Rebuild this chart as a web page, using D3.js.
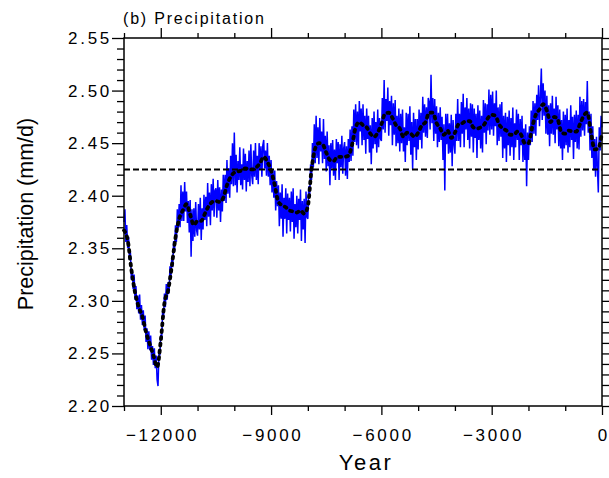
<!DOCTYPE html>
<html>
<head>
<meta charset="utf-8">
<script src="https://cdn.jsdelivr.net/npm/d3@7"></script>
<style>
  body { margin: 0; background: white; }
  text { font-family: "Liberation Sans", Arial, Helvetica, sans-serif; fill: black; }
</style>
</head>
<body>
<div id="viz-container"></div>
<script>
let svgWidth = 609;
let svgHeight = 478;

// frame of the plot
let plotLeft = 124, plotRight = 602, plotTop = 38, plotBottom = 406;

// ---- data ----
// raw series, one value every 25 years from -13000 to 0
let rawStart = -13000;
let rawStep = 25;
let rawValues = [
  2.375, 2.387, 2.356, 2.372, 2.35, 2.361, 2.339, 2.346, 2.32, 2.33, 2.311, 2.325, 2.301, 2.314, 2.292, 2.305, 2.288, 2.306, 2.282, 2.296,
  2.277, 2.291, 2.272, 2.286, 2.261, 2.274, 2.254, 2.271, 2.253, 2.267, 2.244, 2.257, 2.239, 2.255, 2.236, 2.248, 2.225, 2.219, 2.25, 2.248,
  2.268, 2.263, 2.29, 2.284, 2.307, 2.294, 2.316, 2.301, 2.318, 2.307, 2.333, 2.322, 2.342, 2.332, 2.357, 2.347, 2.372, 2.356, 2.387, 2.369,
  2.392, 2.37, 2.41, 2.376, 2.404, 2.376, 2.413, 2.385, 2.404, 2.374, 2.395, 2.365, 2.396, 2.342, 2.387, 2.357, 2.388, 2.361, 2.394, 2.367,
  2.362, 2.392, 2.368, 2.398, 2.358, 2.388, 2.368, 2.401, 2.377, 2.399, 2.371, 2.412, 2.38, 2.403, 2.372, 2.411, 2.386, 2.416, 2.38, 2.405,
  2.407, 2.379, 2.415, 2.386, 2.408, 2.375, 2.406, 2.385, 2.42, 2.395, 2.42, 2.393, 2.434, 2.402, 2.426, 2.398, 2.438, 2.411, 2.45, 2.409,
  2.46, 2.41, 2.439, 2.403, 2.433, 2.415, 2.446, 2.41, 2.43, 2.406, 2.445, 2.415, 2.44, 2.404, 2.433, 2.413, 2.443, 2.409, 2.449, 2.419,
  2.411, 2.443, 2.418, 2.45, 2.415, 2.438, 2.411, 2.45, 2.425, 2.447, 2.418, 2.448, 2.453, 2.426, 2.443, 2.419, 2.45, 2.418, 2.438, 2.41,
  2.434, 2.403, 2.425, 2.398, 2.424, 2.386, 2.414, 2.39, 2.41, 2.371, 2.403, 2.378, 2.411, 2.361, 2.398, 2.378, 2.407, 2.364, 2.402, 2.377,
  2.398, 2.366, 2.404, 2.375, 2.407, 2.359, 2.392, 2.37, 2.4, 2.364, 2.397, 2.377, 2.406, 2.357, 2.395, 2.368, 2.397, 2.355, 2.404, 2.38,
  2.378, 2.409, 2.401, 2.43, 2.415, 2.45, 2.427, 2.468, 2.431, 2.476, 2.436, 2.465, 2.43, 2.474, 2.442, 2.461, 2.431, 2.473, 2.435, 2.457,
  2.423, 2.461, 2.428, 2.448, 2.41, 2.45, 2.426, 2.453, 2.419, 2.444, 2.415, 2.454, 2.431, 2.451, 2.415, 2.449, 2.427, 2.457, 2.421, 2.445,
  2.451, 2.419, 2.447, 2.416, 2.454, 2.432, 2.463, 2.433, 2.466, 2.438, 2.482, 2.451, 2.487, 2.448, 2.48, 2.445, 2.49, 2.461, 2.483, 2.448,
  2.487, 2.453, 2.476, 2.44, 2.483, 2.454, 2.476, 2.441, 2.467, 2.43, 2.474, 2.445, 2.48, 2.449, 2.47, 2.441, 2.482, 2.446, 2.474, 2.454,
  2.452, 2.493, 2.463, 2.51, 2.46, 2.492, 2.471, 2.503, 2.457, 2.49, 2.467, 2.495, 2.448, 2.488, 2.458, 2.491, 2.447, 2.476, 2.45, 2.483,
  2.442, 2.478, 2.45, 2.482, 2.442, 2.465, 2.432, 2.479, 2.448, 2.478, 2.452, 2.485, 2.439, 2.47, 2.425, 2.479, 2.446, 2.473, 2.434, 2.473,
  2.444, 2.482, 2.453, 2.479, 2.445, 2.494, 2.46, 2.487, 2.456, 2.484, 2.455, 2.493, 2.489, 2.463, 2.515, 2.469, 2.493, 2.452, 2.492, 2.459,
  2.485, 2.446, 2.479, 2.451, 2.484, 2.453, 2.475, 2.434, 2.468, 2.405, 2.478, 2.449, 2.478, 2.44, 2.469, 2.441, 2.477, 2.428, 2.472, 2.449,
  2.44, 2.478, 2.452, 2.492, 2.452, 2.478, 2.446, 2.489, 2.459, 2.497, 2.446, 2.484, 2.463, 2.493, 2.453, 2.483, 2.445, 2.488, 2.456, 2.487,
  2.441, 2.483, 2.455, 2.478, 2.436, 2.486, 2.453, 2.481, 2.445, 2.476, 2.441, 2.491, 2.46, 2.488, 2.449, 2.487, 2.462, 2.501, 2.458, 2.496,
  2.463, 2.499, 2.457, 2.488, 2.466, 2.5, 2.448, 2.484, 2.452, 2.487, 2.456, 2.489, 2.436, 2.476, 2.445, 2.479, 2.432, 2.475, 2.448, 2.481,
  2.438, 2.474, 2.446, 2.484, 2.434, 2.469, 2.446, 2.482, 2.453, 2.478, 2.434, 2.473, 2.448, 2.476, 2.432, 2.464, 2.434, 2.468, 2.409, 2.46,
  2.434, 2.466, 2.448, 2.481, 2.451, 2.49, 2.459, 2.488, 2.457, 2.496, 2.472, 2.505, 2.466, 2.495, 2.521, 2.472, 2.507, 2.476, 2.5, 2.459,
  2.495, 2.458, 2.486, 2.447, 2.488, 2.459, 2.495, 2.458, 2.483, 2.45, 2.494, 2.463, 2.486, 2.447, 2.482, 2.445, 2.472, 2.434, 2.48, 2.445,
  2.477, 2.448, 2.483, 2.441, 2.472, 2.446, 2.486, 2.453, 2.475, 2.435, 2.477, 2.451, 2.481, 2.445, 2.477, 2.444, 2.494, 2.456, 2.49, 2.462,
  2.492, 2.457, 2.489, 2.468, 2.509, 2.46, 2.48, 2.443, 2.478, 2.436, 2.466, 2.424, 2.454, 2.418, 2.456, 2.427, 2.403, 2.465, 2.443, 2.476,
  2.465
];

// smoothed series, one value every 100 years from -13000 to 0
let smoothStart = -13000;
let smoothStep = 100;
let smoothValues = [
  2.367, 2.358, 2.33, 2.308, 2.294, 2.285, 2.27, 2.259, 2.248, 2.237,
  2.262, 2.298, 2.31, 2.333, 2.36, 2.378, 2.386, 2.392, 2.382, 2.372,
  2.376, 2.376, 2.383, 2.39, 2.394, 2.395, 2.394, 2.398, 2.41, 2.418,
  2.422, 2.423, 2.424, 2.426, 2.425, 2.425, 2.427, 2.431, 2.437, 2.432,
  2.424, 2.41, 2.394, 2.391, 2.389, 2.386, 2.385, 2.384, 2.386, 2.383,
  2.39, 2.425, 2.445, 2.45, 2.449, 2.441, 2.434, 2.433, 2.437, 2.437,
  2.437, 2.438, 2.448, 2.465, 2.47, 2.467, 2.465, 2.459, 2.456, 2.46,
  2.468, 2.478, 2.479, 2.474, 2.467, 2.464, 2.456, 2.46, 2.459, 2.456,
  2.46, 2.467, 2.47, 2.479, 2.479, 2.469, 2.464, 2.458, 2.462, 2.455,
  2.46, 2.468, 2.469, 2.471, 2.471, 2.465, 2.464, 2.465, 2.468, 2.474,
  2.477, 2.476, 2.468, 2.464, 2.462, 2.458, 2.458, 2.461, 2.458, 2.45,
  2.45, 2.465, 2.477, 2.482, 2.487, 2.481, 2.47, 2.475, 2.472, 2.46,
  2.459, 2.462, 2.461, 2.461, 2.468, 2.476, 2.479, 2.46, 2.444, 2.445,
  2.46
];

let referenceLevel = 2.425;

// ticks
let xMajorTicks = [-12000, -9000, -6000, -3000, 0];
let xMinorTicks = [-13000, -11000, -10000, -8000, -7000, -5000, -4000, -2000, -1000];
let yMajorTicks = [2.20, 2.25, 2.30, 2.35, 2.40, 2.45, 2.50, 2.55];
let yMinorTicks = d3.range(2.20, 2.5501, 0.01).filter(v => Math.round(v * 100) % 5 != 0);

let rawData = rawValues.map((v, i) => ({year: rawStart + i * rawStep, value: v}));
let smoothData = smoothValues.map((v, i) => ({year: smoothStart + i * smoothStep, value: v}));

// ---- svg ----
let viz = d3.select("#viz-container")
  .append("svg")
    .attr("width", svgWidth)
    .attr("height", svgHeight)
    .style("display", "block");

let x = d3.scaleLinear().domain([-13000, 0]).range([plotLeft, plotRight]);
let y = d3.scaleLinear().domain([2.20, 2.55]).range([plotBottom, plotTop]);

let lineGen = d3.line()
  .x(d => x(d.year))
  .y(d => y(d.value));

// blue raw series
viz.append("path")
  .datum(rawData)
  .attr("d", lineGen)
  .attr("fill", "none")
  .attr("stroke", "#0000ff")
  .attr("stroke-width", 1.5)
  .attr("stroke-linejoin", "miter");

// dashed reference line
viz.append("line")
  .attr("x1", x(-13000))
  .attr("x2", x(0))
  .attr("y1", y(referenceLevel))
  .attr("y2", y(referenceLevel))
  .attr("stroke", "black")
  .attr("stroke-width", 2)
  .attr("stroke-dasharray", "6 3");

// black smoothed series
viz.append("path")
  .datum(smoothData)
  .attr("d", lineGen.curve(d3.curveMonotoneX))
  .attr("fill", "none")
  .attr("stroke", "black")
  .attr("stroke-width", 3.8)
  .attr("stroke-linecap", "round")
  .attr("stroke-dasharray", "2 4.8");

// ---- axes ----
function styleAxis(g){
  g.select(".domain").remove();
  g.selectAll(".tick line").attr("stroke", "black").attr("stroke-width", 1.3);
}

// left
viz.append("g").attr("transform", "translate(" + plotLeft + ",0)")
  .call(d3.axisLeft(y).tickValues(yMinorTicks).tickSize(7).tickFormat(""))
  .call(styleAxis);
viz.append("g").attr("transform", "translate(" + plotLeft + ",0)")
  .call(d3.axisLeft(y).tickValues(yMajorTicks).tickSize(12).tickPadding(0).tickFormat(d3.format(".2f")))
  .call(styleAxis)
  .selectAll("text")
    .style("font-size", "17px")
    .style("letter-spacing", "2.7px");

// right
viz.append("g").attr("transform", "translate(" + plotRight + ",0)")
  .call(d3.axisRight(y).tickValues(yMinorTicks).tickSize(7).tickFormat(""))
  .call(styleAxis);
viz.append("g").attr("transform", "translate(" + plotRight + ",0)")
  .call(d3.axisRight(y).tickValues(yMajorTicks).tickSize(12).tickFormat(""))
  .call(styleAxis);

// top
viz.append("g").attr("transform", "translate(0," + plotTop + ")")
  .call(d3.axisTop(x).tickValues(xMinorTicks).tickSize(5).tickFormat(""))
  .call(styleAxis);
viz.append("g").attr("transform", "translate(0," + plotTop + ")")
  .call(d3.axisTop(x).tickValues(xMajorTicks).tickSize(10).tickFormat(""))
  .call(styleAxis);

// bottom
viz.append("g").attr("transform", "translate(0," + plotBottom + ")")
  .call(d3.axisBottom(x).tickValues(xMinorTicks).tickSize(5).tickFormat(""))
  .call(styleAxis);
viz.append("g").attr("transform", "translate(0," + plotBottom + ")")
  .call(d3.axisBottom(x).tickValues(xMajorTicks).tickSize(9).tickPadding(14).tickFormat(d3.format("d")))
  .call(styleAxis)
  .selectAll("text")
    .style("font-size", "17px")
    .style("letter-spacing", "2.7px")
    .attr("dx", "1.3px");

// frame
viz.append("rect")
  .attr("x", plotLeft)
  .attr("y", plotTop)
  .attr("width", plotRight - plotLeft)
  .attr("height", plotBottom - plotTop)
  .attr("fill", "none")
  .attr("stroke", "black")
  .attr("stroke-width", 1.5);

// ---- texts ----
viz.append("text")
  .text("(b) Precipitation")
  .attr("x", 123)
  .attr("y", 24)
  .style("font-size", "16px")
  .style("letter-spacing", "1.8px");

viz.append("text")
  .text("Year")
  .attr("x", 366)
  .attr("y", 470)
  .attr("text-anchor", "middle")
  .style("font-size", "22px")
  .style("letter-spacing", "2.5px");

viz.append("text")
  .text("Precipitation (mm/d)")
  .attr("transform", "translate(33,214) rotate(-90)")
  .attr("text-anchor", "middle")
  .style("font-size", "21.5px");
</script>
</body>
</html>
